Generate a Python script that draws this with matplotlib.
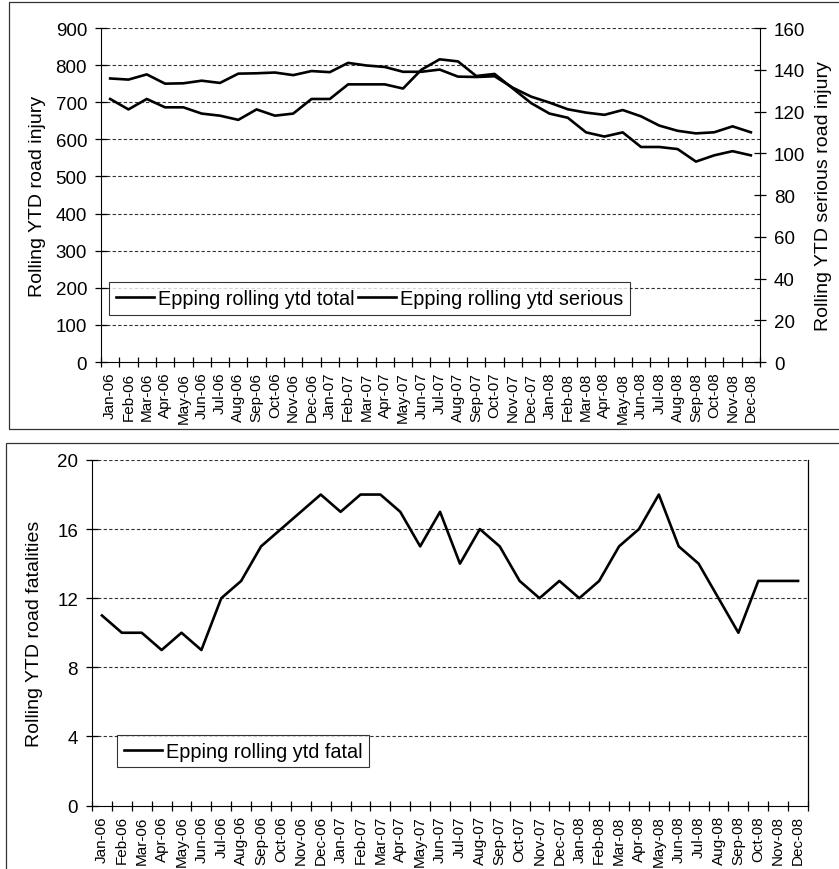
import numpy as np
import matplotlib.pyplot as plt
from matplotlib.patches import Rectangle

plt.rcParams['font.family'] = ['Liberation Sans', 'DejaVu Sans']

months = ['Jan-06', 'Feb-06', 'Mar-06', 'Apr-06', 'May-06', 'Jun-06', 'Jul-06', 'Aug-06',
          'Sep-06', 'Oct-06', 'Nov-06', 'Dec-06', 'Jan-07', 'Feb-07', 'Mar-07', 'Apr-07',
          'May-07', 'Jun-07', 'Jul-07', 'Aug-07', 'Sep-07', 'Oct-07', 'Nov-07', 'Dec-07',
          'Jan-08', 'Feb-08', 'Mar-08', 'Apr-08', 'May-08', 'Jun-08', 'Jul-08', 'Aug-08',
          'Sep-08', 'Oct-08', 'Nov-08', 'Dec-08']

# rolling ytd totals (left axis)
total = [764, 761, 775, 750, 751, 758, 752, 777, 778, 780, 773, 784,
         781, 806, 799, 795, 782, 782, 788, 769, 768, 770, 739, 715,
         699, 681, 672, 666, 679, 662, 637, 623, 616, 619, 635, 619]

# rolling ytd serious (right axis)
serious = [126, 121, 126, 122, 122, 119, 118, 116, 121, 118, 119, 126,
           126, 133, 133, 133, 131, 140, 145, 144, 137, 138, 131, 124,
           119, 117, 110, 108, 110, 103, 103, 102, 96, 99, 101, 99]

# rolling ytd fatal
fatal = [11, 10, 10, 9, 10, 9, 12, 13, 15, 16, 17, 18,
         17, 18, 18, 17, 15, 17, 14, 16, 15, 13, 12, 13,
         12, 13, 15, 16, 18, 15, 14, 12, 10, 13, 13, 13]

x = np.arange(len(months))

fig = plt.figure(figsize=(8.39, 8.70), dpi=100)

# panel frames
fig.add_artist(Rectangle((9 / 839, 1 - 430 / 870), 835 / 839, 427 / 870, transform=fig.transFigure,
                         fill=False, edgecolor='#333333', linewidth=0.9))
fig.add_artist(Rectangle((6 / 839, -0.05), 840 / 839, (1 - 444 / 870) + 0.05, transform=fig.transFigure,
                         fill=False, edgecolor='#333333', linewidth=0.9))

grid_kw = dict(color='#333333', linestyle=(0, (3, 2)), linewidth=0.8)
tick_fs = 13.5
label_fs = 14
leg_fs = 14.3


def style_xaxis(ax):
    ax.set_xlim(-0.5, len(months) - 0.5)
    ax.set_xticks(x)
    ax.set_xticklabels(months, rotation=90, fontsize=11)
    ax.set_xticks(np.arange(-0.5, len(months)), minor=True)
    ax.tick_params(axis='x', which='major', length=0, pad=7)
    ax.tick_params(axis='x', which='minor', direction='inout', length=7, width=0.9)


# ---- top chart
ax = fig.add_axes([101 / 839, 1 - 363 / 870, 659 / 839, 334 / 870])
ax.plot(x, total, color='black', linewidth=1.9, label='Epping rolling ytd total')
ax.set_ylim(0, 900)
ax.set_yticks(range(0, 901, 100))
for v in range(100, 901, 100):
    ax.axhline(v, **grid_kw, zorder=0)
ax.tick_params(axis='y', direction='inout', length=8, width=0.9, labelsize=tick_fs, pad=6)
style_xaxis(ax)
for s in ['top', 'right']:
    ax.spines[s].set_visible(False)
ax.set_ylabel('Rolling YTD road injury', fontsize=label_fs, labelpad=7)

ax2 = ax.twinx()
ax2.plot(x, serious, color='black', linewidth=1.9, label='Epping rolling ytd serious')
ax2.set_ylim(0, 160)
ax2.set_yticks(range(0, 161, 20))
ax2.tick_params(axis='y', direction='inout', length=8, width=0.9, labelsize=tick_fs, pad=6)
for s in ['top', 'left', 'bottom']:
    ax2.spines[s].set_visible(False)
ax2.set_ylabel('Rolling YTD serious road injury', fontsize=label_fs, labelpad=7)

h1, l1 = ax.get_legend_handles_labels()
h2, l2 = ax2.get_legend_handles_labels()
leg = ax2.legend(h1 + h2, l1 + l2, ncol=2, loc='lower left', bbox_to_anchor=(0.012, 0.14),
                 fontsize=leg_fs, frameon=True, fancybox=False, edgecolor='black',
                 handlelength=1.9, handletextpad=0.2, columnspacing=0.2, borderpad=0.35,
                 borderaxespad=0)
leg.get_frame().set_linewidth(0.8)

# ---- bottom chart
ax3 = fig.add_axes([92 / 839, 1 - 806.5 / 870, 716 / 839, 345.5 / 870])
ax3.plot(x, fatal, color='black', linewidth=1.9, label='Epping rolling ytd fatal')
ax3.set_ylim(0, 20)
ax3.set_yticks(range(0, 21, 4))
for v in range(4, 21, 4):
    ax3.axhline(v, **grid_kw, zorder=0)
ax3.tick_params(axis='y', direction='inout', length=8, width=0.9, labelsize=tick_fs, pad=6)
style_xaxis(ax3)
ax3.spines['top'].set_visible(False)
ax3.spines['right'].set_linewidth(0.9)
ax3.set_ylabel('Rolling YTD road fatalities', fontsize=label_fs, labelpad=10)
leg3 = ax3.legend(loc='lower left', bbox_to_anchor=(0.035, 0.11), fontsize=leg_fs,
                  frameon=True, fancybox=False, edgecolor='black', handlelength=1.9,
                  handletextpad=0.2, borderpad=0.35, borderaxespad=0)
leg3.get_frame().set_linewidth(0.8)

fig.savefig('out.png', dpi=100)
